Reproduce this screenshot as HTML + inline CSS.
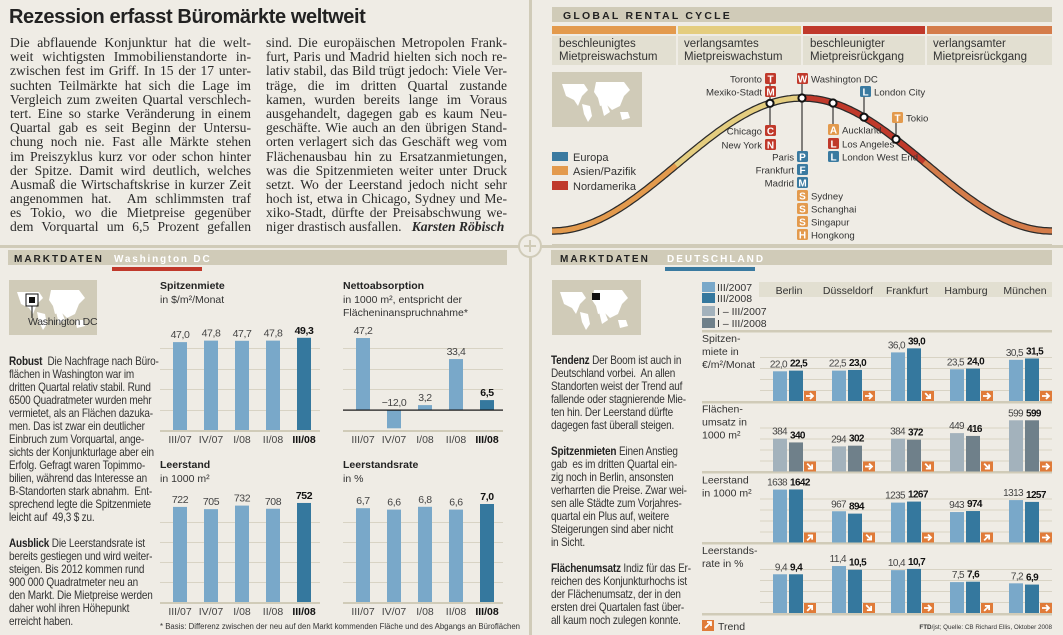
<!DOCTYPE html>
<html><head><meta charset="utf-8">
<style>
body{margin:0;width:1063px;height:635px;background:#efece5;position:relative;overflow:hidden;font-family:"Liberation Sans",sans-serif;color:#222}
.art{position:absolute;top:36px;width:241px;font-family:"Liberation Serif",serif;font-size:13.6px;line-height:14.2px;color:#2a2a2a}
.art div{text-align:justify;text-align-last:justify;white-space:nowrap;height:14.2px}
.para{position:absolute;font-size:11.6px;line-height:13px;letter-spacing:-0.2px;color:#333;white-space:nowrap;transform:scaleX(0.86);transform-origin:0 0}
.para b{color:#222}
</style></head>
<body>
<div style="position:absolute;left:9px;top:6px;font-size:20px;font-weight:bold;letter-spacing:-0.4px;color:#222">Rezession erfasst Büromärkte weltweit</div>
<div class="art" style="left:10px">
<div>Die abflauende Konjunktur hat die welt-</div>
<div>weit wichtigsten Immobilienstandorte in-</div>
<div>zwischen fest im Griff. In 15 der 17 unter-</div>
<div>suchten Teilmärkte hat sich die Lage im</div>
<div>Vergleich zum zweiten Quartal verschlech-</div>
<div>tert. Eine so starke Veränderung in einem</div>
<div>Quartal gab es seit Beginn der Untersu-</div>
<div>chung noch nie. Fast alle Märkte stehen</div>
<div>im Preiszyklus kurz vor oder schon hinter</div>
<div>der Spitze. Damit wird deutlich, welches</div>
<div>Ausmaß die Wirtschaftskrise in kurzer Zeit</div>
<div>angenommen hat.&nbsp; Am schlimmsten traf</div>
<div>es Tokio, wo die Mietpreise gegenüber</div>
<div>dem Vorquartal um 6,5 Prozent gefallen</div>
</div>
<div class="art" style="left:266px">
<div>sind. Die europäischen Metropolen Frank-</div>
<div>furt, Paris und Madrid hielten sich noch re-</div>
<div>lativ stabil, das Bild trügt jedoch: Viele Ver-</div>
<div>träge, die im dritten Quartal zustande</div>
<div>kamen, wurden bereits lange im Voraus</div>
<div>ausgehandelt, dagegen gab es kaum Neu-</div>
<div>geschäfte. Wie auch an den übrigen Stand-</div>
<div>orten verlagert sich das Geschäft weg vom</div>
<div>Flächenausbau hin zu Ersatzanmietungen,</div>
<div>was die Spitzenmieten weiter unter Druck</div>
<div>setzt. Wo der Leerstand jedoch nicht sehr</div>
<div>hoch ist, etwa in Chicago, Sydney und Me-</div>
<div>xiko-Stadt, dürfte der Preisabschwung we-</div>
<div style="text-align-last:auto">niger drastisch ausfallen.&nbsp;&nbsp; <b><i>Karsten Röbisch</i></b></div>
</div>

<div class="para" style="left:9px;top:355px">
<b>Robust</b>&nbsp; Die Nachfrage nach Büro-<br>flächen in Washington war im<br>dritten Quartal relativ stabil. Rund<br>6500 Quadratmeter wurden mehr<br>vermietet, als an Flächen dazuka-<br>men. Das ist zwar ein deutlicher<br>Einbruch zum Vorquartal, ange-<br>sichts der Konjunkturlage aber ein<br>Erfolg. Gefragt waren Topimmo-<br>bilien, während das Interesse an<br>B-Standorten stark abnahm.&nbsp; Ent-<br>sprechend legte die Spitzenmiete<br>leicht auf&nbsp; 49,3 $ zu.<br><br><b>Ausblick</b> Die Leerstandsrate ist<br>bereits gestiegen und wird weiter-<br>steigen. Bis 2012 kommen rund<br>900 000 Quadratmeter neu an<br>den Markt. Die Mietpreise werden<br>daher wohl ihren Höhepunkt<br>erreicht haben.
</div>
<div class="para" style="left:551px;top:354px">
<b>Tendenz</b> Der Boom ist auch in<br>Deutschland vorbei.&nbsp; An allen<br>Standorten weist der Trend auf<br>fallende oder stagnierende Mie-<br>ten hin. Der Leerstand dürfte<br>dagegen fast überall steigen.<br><br><b>Spitzenmieten</b> Einen Anstieg<br>gab&nbsp; es im dritten Quartal ein-<br>zig noch in Berlin, ansonsten<br>verharrten die Preise. Zwar wei-<br>sen alle Städte zum Vorjahres-<br>quartal ein Plus auf, weitere<br>Steigerungen sind aber nicht<br>in Sicht.<br><br><b>Flächenumsatz</b> Indiz für das Er-<br>reichen des Konjunkturhochs ist<br>der Flächenumsatz, der in den<br>ersten drei Quartalen fast über-<br>all kaum noch zulegen konnte.
</div>

<svg id="svg" width="1063" height="635" style="position:absolute;left:0;top:0" font-family="Liberation Sans, sans-serif">
<rect x="0" y="245" width="1063" height="3" fill="#d0cbb8"/>
<rect x="529" y="0" width="3" height="635" fill="#d0cbb8"/>
<g><circle cx="530" cy="246" r="11" fill="#efece5" stroke="#d0cbb8" stroke-width="2"/><path d="M524 246h12M530 240v12" stroke="#d0cbb8" stroke-width="2"/></g>

<rect x="552" y="7" width="500" height="15" fill="#d0cbb8"/>
<text x="563" y="19" font-size="10.5" font-weight="bold" letter-spacing="2.2" fill="#222">GLOBAL RENTAL CYCLE</text>
<g>
<rect x="552" y="26" width="124" height="8" fill="#e39a4d"/><rect x="678" y="26" width="123" height="8" fill="#e4cd7f"/><rect x="803" y="26" width="122" height="8" fill="#c0392b"/><rect x="927" y="26" width="125" height="8" fill="#d47c4a"/>
<rect x="552" y="36" width="124" height="29" fill="#e2dfd1"/><rect x="678" y="36" width="123" height="29" fill="#e2dfd1"/><rect x="803" y="36" width="122" height="29" fill="#e2dfd1"/><rect x="927" y="36" width="125" height="29" fill="#e2dfd1"/>
</g>
<g font-size="11.5" fill="#333">
<text x="559" y="47">beschleunigtes</text><text x="559" y="60">Mietpreiswachstum</text>
<text x="684" y="47">verlangsamtes</text><text x="684" y="60">Mietpreiswachstum</text>
<text x="810" y="47">beschleunigter</text><text x="810" y="60">Mietpreisrückgang</text>
<text x="933" y="47">verlangsamter</text><text x="933" y="60">Mietpreisrückgang</text>
</g>
<g>
<rect x="552" y="72" width="90" height="55" fill="#d0cbb8"/>
<path d="M562 84h22l4 6-6 6-4 10-4-6-8-4zM582 104l8 2 2 10-4 6-4-8z M596 82h28l6 8-6 6-4 10-8 4-6-6-6 2-2-8-4-6zM600 100l6 2 4 10-6 4z M620 112h8l2 6-8 2z" fill="#fff"/>
</g>
<g font-size="11" fill="#333">
<rect x="552" y="152" width="16" height="9" fill="#3a7aa0"/><text x="573" y="161">Europa</text>
<rect x="552" y="166" width="16" height="9" fill="#e39a4d"/><text x="573" y="175">Asien/Pazifik</text>
<rect x="552" y="181" width="16" height="9" fill="#c0392b"/><text x="573" y="190">Nordamerika</text>
</g>
<g id="cycle"></g>
<g id="badges"></g>
<rect x="552" y="244" width="500" height="2" fill="#d0cbb8"/>

<rect x="8" y="250" width="499" height="15" fill="#d0cbb8"/>
<text x="14" y="262" font-size="10" font-weight="bold" letter-spacing="2" fill="#222">MARKTDATEN</text>
<text x="114" y="262" font-size="10" font-weight="bold" letter-spacing="1.8" fill="#fff">Washington DC</text>
<rect x="112" y="267" width="90" height="4" fill="#c0392b"/>
<g>
<rect x="9" y="280" width="88" height="55" fill="#d0cbb8"/>
<path d="M17 292h22l4 6-6 6-4 10-4-6-8-4zM37 312l8 2 2 10-4 6-4-8z M51 290h28l6 8-6 6-4 10-8 4-6-6-6 2-2-8-4-6zM55 308l6 2 4 10-6 4z M75 320h8l2 6-8 2z" fill="#fff"/>
<rect x="26" y="294" width="12" height="12" fill="none" stroke="#111" stroke-width="1"/><rect x="29" y="297" width="6" height="6" fill="#111"/><path d="M32 306v12" stroke="#111"/>
<text x="28" y="325" font-size="10.5" fill="#333" letter-spacing="-0.3">Washington DC</text>
</g>
<g id="wdc"></g>
<text x="160" y="629" font-size="7.8" fill="#333">* Basis: Differenz zwischen der neu auf den Markt kommenden Fläche und des Abgangs an Büroflächen</text>

<rect x="551" y="250" width="501" height="15" fill="#d0cbb8"/>
<text x="560" y="262" font-size="10" font-weight="bold" letter-spacing="2" fill="#222">MARKTDATEN</text>
<text x="667" y="262" font-size="10" font-weight="bold" letter-spacing="2" fill="#fff">DEUTSCHLAND</text>
<rect x="665" y="267" width="90" height="4" fill="#3a7aa0"/>
<g>
<rect x="552" y="280" width="89" height="55" fill="#d0cbb8"/>
<path d="M560 292h22l4 6-6 6-4 10-4-6-8-4zM580 312l8 2 2 10-4 6-4-8z M594 290h28l6 8-6 6-4 10-8 4-6-6-6 2-2-8-4-6zM598 308l6 2 4 10-6 4z M618 320h8l2 6-8 2z" fill="#fff"/>
<rect x="592" y="293" width="8" height="7" fill="#111"/>
</g>
<g font-size="10.5" fill="#333">
<rect x="702" y="282" width="13" height="10" fill="#79a8c9"/><text x="717" y="291">III/2007</text>
<rect x="702" y="293" width="13" height="10" fill="#35789e"/><text x="717" y="302">III/2008</text>
<rect x="702" y="306" width="13" height="10" fill="#a3b2bc"/><text x="717" y="315">I – III/2007</text>
<rect x="702" y="318" width="13" height="10" fill="#6f808a"/><text x="717" y="327">I – III/2008</text>
</g>
<rect x="759" y="282" width="293" height="15" fill="#e2dfd1"/>
<g id="de"></g>
<g>
<rect x="702" y="620" width="12" height="11" fill="#e07b39"/><path d="M705 628l6-6M707 622h4v4" stroke="#fff" stroke-width="1.8" fill="none"/>
<text x="718" y="630" font-size="10.5" fill="#333">Trend</text>
</g>
<text x="1052" y="629" font-size="6.3" fill="#333" text-anchor="end"><tspan font-weight="bold">FTD</tspan>/jst; Quelle: CB Richard Ellis, Oktober 2008</text>
</svg>

<script>
// ---- Washington DC data ----
const wdcQuarters = ["III/07","IV/07","I/08","II/08","III/08"];
const wdcSpitzenmiete = [47.0,47.8,47.7,47.8,49.3];
const wdcNettoabsorption = [47.2,-12.0,3.2,33.4,6.5];
const wdcLeerstand = [722,705,732,708,752];
const wdcLeerstandsrate = [6.7,6.6,6.8,6.6,7.0];
// ---- Deutschland data ----
const deCities = ["Berlin","Düsseldorf","Frankfurt","Hamburg","München"];
const deMietePrev = [22.0,22.5,36.0,23.5,30.5];
const deMieteCur = [22.5,23.0,39.0,24.0,31.5];
const deUmsatzPrev = [384,294,384,449,599];
const deUmsatzCur = [340,302,372,416,599];
const deLeerPrev = [1638,967,1235,943,1313];
const deLeerCur = [1642,894,1267,974,1257];
const deRatePrev = [9.4,11.4,10.4,7.5,7.2];
const deRateCur = [9.4,10.5,10.7,7.6,6.9];
const deTrendMiete = ["flat","flat","down","flat","flat"];
const deTrendUmsatz = ["down","flat","down","down","flat"];
const deTrendLeer = ["up","down","flat","up","flat"];
const deTrendRate = ["up","down","flat","up","flat"];

const NS = "http://www.w3.org/2000/svg";
function mk(tag, attrs, parent){const e=document.createElementNS(NS,tag);for(const k in attrs)e.setAttribute(k,attrs[k]);parent.appendChild(e);return e;}
function fmt(v,d){let s=v.toFixed(d).replace('.',',');return s.replace('-','\u2212');}

const wdc = document.getElementById('wdc');
function wdcChart(cfg){
  const g = mk('g',{},wdc);
  
  
  const t = mk('text',{x:cfg.x0,y:cfg.titleY,'font-size':10.5,'font-weight':'bold',fill:'#222'},g); t.textContent=cfg.title;
  
  
  cfg.sub.forEach((s,i)=>{const st=mk('text',{x:cfg.x0,y:cfg.titleY+14+i*13,'font-size':10.5,fill:'#333'},g);st.textContent=s;
    
    });
  cfg.grid.forEach(y=>{const l=mk('rect',{x:cfg.x0,y:y,width:160,height:1,fill:'#d8d3c4'},g);
    
    });
  const base = mk('rect',{x:cfg.x0,y:cfg.axisY,width:160,height:2,fill:'#d0cbb8'},g);
  
  
  const yv = v=>cfg.zero - v*cfg.scale;
  cfg.values.forEach((v,i)=>{
    const cx = cfg.x0+20+i*31;
    const y1 = Math.min(yv(v),cfg.zero), h=Math.abs(v*cfg.scale);
    const b = mk('rect',{x:cx-7,y:y1,width:14,height:h,fill:i===4?'#35789e':'#79a8c9'},g);
    
    
    const ly = v>=0 ? yv(v)-4 : cfg.zero-4;
    const lt = mk('text',{x:cx,y:ly,'font-size':10.5,'text-anchor':'middle',fill:i===4?'#111':'#444','font-weight':i===4?'bold':'normal','letter-spacing':-0.4},g);
    lt.textContent = fmt(v,cfg.dec);
    
    
    const tk = mk('text',{x:cx,y:cfg.axisY+13,'font-size':10.5,'text-anchor':'middle',fill:i===4?'#111':'#444','font-weight':i===4?'bold':'normal'},g);
    tk.textContent = wdcQuarters[i];
    
    
  });
  if(cfg.zeroLine){const z=mk('rect',{x:cfg.x0,y:cfg.zero-0.5,width:160,height:1.2,fill:'#111'},g);
    
    }
}
wdcChart({name:'spitzenmiete-chart',title:'Spitzenmiete',sub:['in $/m²/Monat'],x0:160,titleY:289,grid:[348,369,389,410],axisY:430,zero:430,scale:1.87,values:wdcSpitzenmiete,dec:1});
wdcChart({name:'nettoabsorption-chart',title:'Nettoabsorption',sub:['in 1000 m², entspricht der','Flächeninanspruchnahme*'],x0:343,titleY:289,grid:[348,369,389],axisY:430,zero:410,scale:1.525,values:wdcNettoabsorption,dec:1,zeroLine:true});
wdcChart({name:'leerstand-chart',title:'Leerstand',sub:['in 1000 m²'],x0:160,titleY:468,grid:[522,542,562,582],axisY:602,zero:602,scale:0.1317,values:wdcLeerstand,dec:0});
wdcChart({name:'leerstandsrate-chart',title:'Leerstandsrate',sub:['in %'],x0:343,titleY:468,grid:[522,542,562,582],axisY:602,zero:602,scale:14,values:wdcLeerstandsrate,dec:1});

const de = document.getElementById('de');
deCities.forEach((c,i)=>{const t=mk('text',{x:789+i*59,y:294,'font-size':10.5,'text-anchor':'middle',fill:'#333'},de);t.textContent=c;
  
  });
[331,402,472,543,614].forEach(y=>{const r=mk('rect',{x:702,y:y-1,width:350,height:2.5,fill:'#d0cbb8'},de);
  
  });
function deRow(cfg){
  const g = mk('g',{},de);
  
  
  cfg.label.forEach((s,i)=>{const t=mk('text',{x:702,y:cfg.base-59+i*13,'font-size':10.5,fill:'#333'},g);t.textContent=s;
    
    });
  [11,22,33,44].forEach(d=>{const l=mk('rect',{x:760,y:cfg.base-d,width:292,height:1,fill:'#d8d3c4'},g);
    
    });
  deCities.forEach((c,i)=>{
    const x = 773+i*59;
    const hp = cfg.prev[i]*cfg.scale, hc = cfg.cur[i]*cfg.scale;
    const bp = mk('rect',{x:x,y:cfg.base-hp,width:14,height:hp,fill:cfg.c1},g);
    
    
    const bc = mk('rect',{x:x+16,y:cfg.base-hc,width:14,height:hc,fill:cfg.c2},g);
    
    
    const lp = mk('text',{x:x+14,y:cfg.base-hp-4,'font-size':10,'text-anchor':'end',fill:'#444','letter-spacing':-0.6},g);
    lp.textContent = fmt(cfg.prev[i],cfg.dec);
    
    
    const lc = mk('text',{x:x+17,y:cfg.base-hc-4,'font-size':10,'text-anchor':'start','font-weight':'bold',fill:'#111','letter-spacing':-0.6},g);
    lc.textContent = fmt(cfg.cur[i],cfg.dec);
    
    
    const ax = x+31, ay = cfg.base-10;
    const ab = mk('rect',{x:ax,y:ay,width:12,height:10,fill:'#e07b39'},g);
    
    
    const rot = cfg.trend[i]==='up'?-45:cfg.trend[i]==='down'?45:0;
    const ar = mk('path',{d:'M-4 0h7M0 -3l3 3-3 3',stroke:'#fff','stroke-width':1.8,fill:'none',transform:`translate(${ax+6},${ay+5}) rotate(${rot})`},g);
    
    
  });
}
deRow({name:'spitzenmiete-row',label:['Spitzen-','miete in','€/m²/Monat'],base:401,scale:1.35,prev:deMietePrev,cur:deMieteCur,dec:1,c1:'#79a8c9',c2:'#35789e',trend:deTrendMiete});
deRow({name:'flaechenumsatz-row',label:['Flächen-','umsatz in','1000 m²'],base:471.5,scale:0.0855,prev:deUmsatzPrev,cur:deUmsatzCur,dec:0,c1:'#a3b2bc',c2:'#6f808a',trend:deTrendUmsatz});
deRow({name:'leerstand-row',label:['Leerstand','in 1000 m²'],base:542.5,scale:0.0323,prev:deLeerPrev,cur:deLeerCur,dec:0,c1:'#79a8c9',c2:'#35789e',trend:deTrendLeer});
deRow({name:'leerstandsrate-row',label:['Leerstands-','rate in %'],base:613,scale:4.12,prev:deRatePrev,cur:deRateCur,dec:1,c1:'#79a8c9',c2:'#35789e',trend:deTrendRate});

const cyc = document.getElementById('cycle');
function cy(x){return 231 - 133*(1-Math.cos(2*Math.PI*(x-552)/500))/2;}
function seg(a,b){let d='';for(let x=a;x<=b;x+=2)d+=(x===a?'M':'L')+x+' '+cy(x).toFixed(1);return d;}
const outline = mk('path',{d:seg(552,1052),stroke:'#2a2a2a','stroke-width':7.5,fill:'none'},cyc);


[[552,678,'#e39a4d'],[676,802,'#e4cd7f'],[800,926,'#c0392b'],[924,1052,'#d47c4a']].forEach(s=>{
  const p = mk('path',{d:seg(s[0],s[1]),stroke:s[2],'stroke-width':5,fill:'none'},cyc);
  
  
});
const bg = document.getElementById('badges');
const lines = [[770,82,'up'],[770,125,'dn'],[802,82,'up'],[802,151,'dn'],[833,124,'dn'],[864,95,'up'],[896,121,'up']];
lines.forEach(l=>{const ln=mk('line',{x1:l[0],y1:l[1],x2:l[0],y2:cy(l[0]),stroke:'#111','stroke-width':1},bg);
  
  });
[770,802,833,864,896].forEach(x=>{const c=mk('circle',{cx:x,cy:cy(x),r:3.6,fill:'#fff',stroke:'#111','stroke-width':2},bg);
  
  });
const R='#c0392b',B='#3a7aa0',O='#e39a4d';
const badgeList = [
 [765,73,'T',R,'Toronto','L'],[765,86,'M',R,'Mexiko-Stadt','L'],[765,125,'C',R,'Chicago','L'],[765,139,'N',R,'New York','L'],
 [797,73,'W',R,'Washington DC','R'],[797,151,'P',B,'Paris','L'],[797,164,'F',B,'Frankfurt','L'],[797,177,'M',B,'Madrid','L'],
 [797,190,'S',O,'Sydney','R'],[797,203,'S',O,'Schanghai','R'],[797,216,'S',O,'Singapur','R'],[797,229,'H',O,'Hongkong','R'],
 [828,124,'A',O,'Auckland','R'],[828,138,'L',R,'Los Angeles','R'],[828,151,'L',B,'London West End','R'],
 [860,86,'L',B,'London City','R'],[892,112,'T',O,'Tokio','R']];
badgeList.forEach(b=>{
  const r = mk('rect',{x:b[0],y:b[1],width:11,height:11,rx:1.5,fill:b[3]},bg);
  
  
  const t = mk('text',{x:b[0]+5.5,y:b[1]+9.5,'font-size':10,'font-weight':'bold','text-anchor':'middle',fill:'#fff'},bg); t.textContent=b[2];
  
  
  const n = mk('text',{x:b[5]==='L'?b[0]-3:b[0]+14,y:b[1]+9.5,'font-size':9.6,'text-anchor':b[5]==='L'?'end':'start',fill:'#333'},bg); n.textContent=b[4];
  
  
});
</script>
</body></html>
